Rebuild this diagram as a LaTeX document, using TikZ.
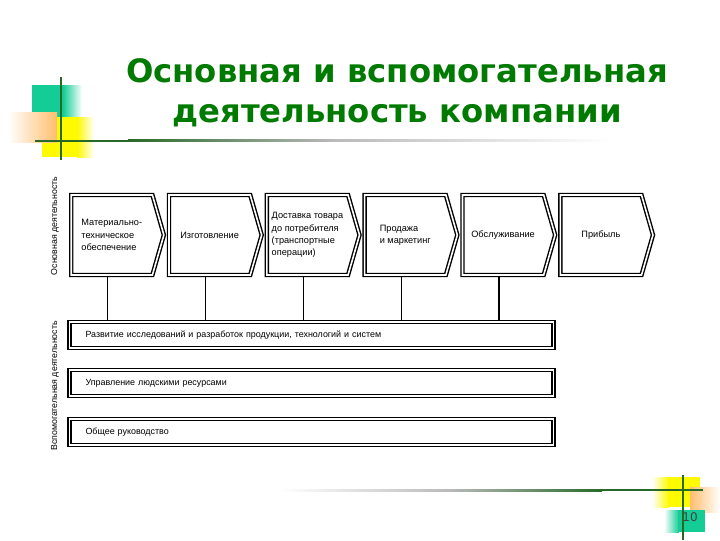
\documentclass[tikz,border=0pt]{standalone}
\usepackage{fontspec}
\setmainfont{Liberation Sans}
\newfontfamily\headfont{DejaVu Sans}
\usetikzlibrary{positioning,shapes.symbols}
\definecolor{headgreen}{RGB}{0,122,0}
\definecolor{linegreen}{RGB}{40,105,40}
\definecolor{decoteal}{RGB}{20,205,150}
\definecolor{decoyellow}{RGB}{255,250,0}
\definecolor{decoorange}{RGB}{255,190,110}

\begin{document}
\begin{tikzpicture}[
        x=0.75pt, y=-0.75pt,
        stage/.style={signal, signal to=east, signal pointer angle=148, draw, line width=1.05pt, double, double distance=1.2pt, outer sep=1.65pt, minimum width=69.5pt, minimum height=60pt, inner sep=2pt, align=left, font=\fontsize{6.9}{9.3}\selectfont},
        bar/.style={draw, line width=1.05pt, double, double distance=1.2pt, outer sep=1.65pt, minimum height=19.2pt, text width=339pt, inner xsep=12pt, align=left, font=\fontsize{6.7}{8}\selectfont},
        side/.style={rotate=90, font=\fontsize{6.6}{8}\selectfont},
        link/.style={line width=0.9pt}
      ]
        \useasboundingbox (0,0) rectangle (720,540);
        % corner decorations
        \fill[decoteal] (32,85) rectangle (64,117);
        \shade[left color=decoteal, right color=white] (63,85) rectangle (82,117);
        \fill[decoyellow] (42,117) rectangle (78,157);
        \shade[left color=decoyellow, right color=white] (77,117) rectangle (94,157);
        \shade[left color=white, right color=decoorange] (8,112) rectangle (57,142);
        \shade[left color=gray!55, right color=white] (330,139.8) rectangle (610,141.8);
        \shade[left color=linegreen, right color=gray!55] (128,139.8) rectangle (332,141.8);
        \fill[linegreen] (35,139.8) rectangle (130,141.8);
        \draw[linegreen, line width=2pt] (61,77) -- (61,160);
        \shade[left color=white, right color=decoyellow] (652,477) rectangle (669,507);
        \fill[decoyellow] (668,477) rectangle (700,507);
        \shade[left color=decoorange, right color=white] (690,487) rectangle (720,512);
        \shade[left color=white, right color=decoteal] (664,510) rectangle (679,532);
        \fill[decoteal] (678,510) rectangle (705,532);
        \shade[left color=white, right color=gray!55] (280,489) rectangle (452,491);
        \shade[left color=gray!55, right color=linegreen] (450,489) rectangle (602,491);
        \fill[linegreen] (600,489) rectangle (703,491);
        \draw[linegreen, line width=2pt] (683,475) -- (683,540);
        \node[font=\headfont\fontsize{9}{10}\selectfont, text=black!75] (page) at (690,517) {10};

        \node[font=\headfont\bfseries\fontsize{24.2}{30}\selectfont, text=headgreen, align=center] (title) at (397,93) {Основная и вспомогательная\\деятельность компании};

        % value chain
        \node[stage, anchor=west] (s1) at (69,235) {Материально-\\техническое\\обеспечение};
        \node[stage, right=0.5pt of s1] (s2) {Изготовление};
        \node[stage, right=0.5pt of s2] (s3) {Доставка товара\\до потребителя\\(транспортные\\операции)};
        \node[stage, right=0.5pt of s3] (s4) {Продажа\\и маркетинг};
        \node[stage, right=0.5pt of s4] (s5) {Обслуживание};
        \node[stage, right=0.5pt of s5] (s6) {Прибыль};

        \node[bar] (rnd) at (311.5,335) {Развитие исследований и разработок продукции, технологий и систем};
        \node[bar, below=13.5pt of rnd] (hr) {Управление людскими ресурсами};
        \node[bar, below=14.25pt of hr] (gm) {Общее руководство};

        \node[side] (mainlbl) at (55,226) {Основная деятельность};
        \node[side] (auxlbl) at (55,386) {Вспомогательная деятельность};

        \draw[link] ([xshift=-3pt]s1.south) -- ([xshift=-3pt]s1.south |- rnd.north);
        \draw[link] ([xshift=-3pt]s2.south) -- ([xshift=-3pt]s2.south |- rnd.north);
        \draw[link] ([xshift=-3pt]s3.south) -- ([xshift=-3pt]s3.south |- rnd.north);
        \draw[link] ([xshift=-3pt]s4.south) -- ([xshift=-3pt]s4.south |- rnd.north);
        \draw[link] ([xshift=-3pt]s5.south) -- ([xshift=-3pt]s5.south |- rnd.north);
      \end{tikzpicture}
\end{document}
